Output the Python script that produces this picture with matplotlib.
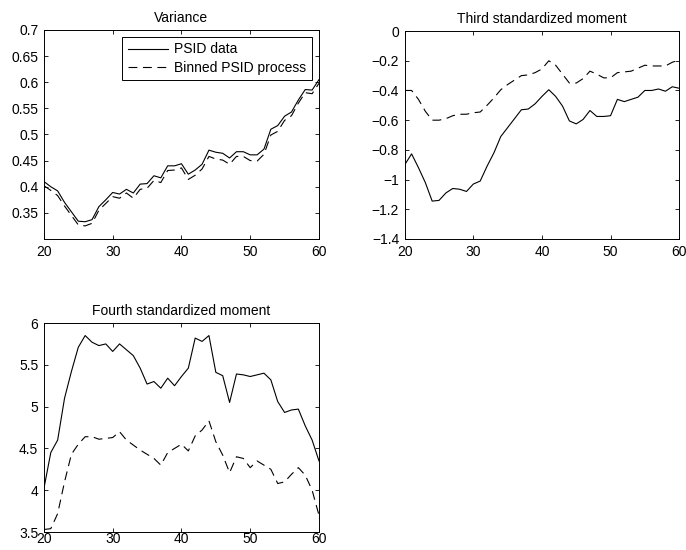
import matplotlib
matplotlib.use('Agg')
import matplotlib.pyplot as plt
import numpy as np

plt.rcParams['font.family'] = ['Liberation Sans', 'DejaVu Sans']
plt.rcParams['font.size'] = 10

ages = np.arange(20, 61)

var_psid = [0.410, 0.400, 0.392, 0.370, 0.352, 0.334, 0.333, 0.337, 0.362, 0.375,
            0.389, 0.386, 0.395, 0.388, 0.405, 0.406, 0.421, 0.417, 0.440, 0.440,
            0.444, 0.424, 0.432, 0.443, 0.470, 0.466, 0.464, 0.455, 0.467, 0.467,
            0.461, 0.461, 0.472, 0.510, 0.517, 0.535, 0.543, 0.566, 0.586, 0.585,
            0.605]
var_binned = [0.402, 0.393, 0.383, 0.363, 0.345, 0.327, 0.325, 0.330, 0.355, 0.368,
              0.381, 0.378, 0.388, 0.378, 0.395, 0.397, 0.412, 0.408, 0.431, 0.432,
              0.436, 0.414, 0.422, 0.434, 0.458, 0.453, 0.451, 0.443, 0.458, 0.458,
              0.450, 0.449, 0.462, 0.499, 0.506, 0.527, 0.536, 0.560, 0.580, 0.578,
              0.598]

skew_psid = [-0.90, -0.827, -0.92, -1.02, -1.145, -1.14, -1.09, -1.06, -1.065, -1.08,
             -1.03, -1.01, -0.91, -0.82, -0.71, -0.65, -0.59, -0.53, -0.525, -0.49,
             -0.44, -0.395, -0.44, -0.505, -0.605, -0.625, -0.595, -0.535, -0.575, -0.575,
             -0.57, -0.46, -0.475, -0.46, -0.445, -0.40, -0.40, -0.39, -0.405, -0.375,
             -0.385]
skew_binned = [-0.40, -0.40, -0.46, -0.54, -0.60, -0.60, -0.59, -0.57, -0.56, -0.56,
               -0.55, -0.545, -0.50, -0.45, -0.395, -0.36, -0.33, -0.30, -0.295, -0.28,
               -0.255, -0.20, -0.23, -0.29, -0.35, -0.35, -0.32, -0.27, -0.29, -0.315,
               -0.315, -0.28, -0.275, -0.27, -0.25, -0.23, -0.235, -0.235, -0.235, -0.21,
               -0.195]

kurt_psid = [4.02, 4.45, 4.60, 5.10, 5.42, 5.71, 5.85, 5.77, 5.73, 5.75,
             5.66, 5.75, 5.68, 5.61, 5.46, 5.27, 5.30, 5.22, 5.34, 5.25,
             5.36, 5.46, 5.82, 5.78, 5.85, 5.41, 5.37, 5.05, 5.39, 5.38,
             5.36, 5.38, 5.40, 5.32, 5.06, 4.93, 4.96, 4.97, 4.77, 4.60,
             4.35]
kurt_binned = [3.53, 3.54, 3.72, 4.10, 4.43, 4.55, 4.64, 4.64, 4.61, 4.62,
               4.63, 4.70, 4.60, 4.54, 4.48, 4.43, 4.38, 4.30, 4.45, 4.50,
               4.55, 4.47, 4.65, 4.72, 4.83, 4.58, 4.42, 4.21, 4.40, 4.38,
               4.27, 4.35, 4.30, 4.25, 4.08, 4.10, 4.19, 4.27, 4.18, 4.00,
               3.70]

x_ticks = [20, 30, 40, 50, 60]
dash = (0, (8, 5))

fig = plt.figure(figsize=(6.86, 5.5), dpi=100)
ax1 = fig.add_axes([0.064, 0.5655, 0.401, 0.380])
ax2 = fig.add_axes([0.590, 0.5655, 0.400, 0.378])
ax3 = fig.add_axes([0.064, 0.0327, 0.401, 0.380])


def style(ax, title, ylim, yticks, ylabels, xpad=4):
    ax.set_xlim(20, 60)
    ax.set_ylim(*ylim)
    ax.set_xticks(x_ticks)
    ax.set_yticks(yticks)
    ax.set_yticklabels(ylabels)
    ax.tick_params(direction='in', top=True, right=True, length=3, width=0.6,
                   labelsize=10, pad=4)
    ax.tick_params(axis='x', pad=xpad)
    for s in ax.spines.values():
        s.set_linewidth(0.7)
    ax.set_title(title, fontsize=10, pad=6)


ax1.plot(ages, var_psid, color='black', lw=0.8, label='PSID data')
ax1.plot(ages, var_binned, color='black', lw=0.8, linestyle=dash,
         label='Binned PSID process')
style(ax1, 'Variance', (0.3, 0.7), [0.35, 0.4, 0.45, 0.5, 0.55, 0.6, 0.65, 0.7],
      ['0.35', '0.4', '0.45', '0.5', '0.55', '0.6', '0.65', '0.7'])
leg = ax1.legend(loc='upper right', fancybox=False, edgecolor='black', framealpha=1,
                 handlelength=2.9, handletextpad=0.45, borderpad=0.4,
                 labelspacing=0.3, borderaxespad=0.5, fontsize=10)
leg.get_frame().set_linewidth(0.7)

ax2.plot(ages, skew_psid, color='black', lw=0.8)
ax2.plot(ages, skew_binned, color='black', lw=0.8, linestyle=dash)
style(ax2, 'Third standardized moment', (-1.4, 0),
      [-1.4, -1.2, -1, -0.8, -0.6, -0.4, -0.2, 0],
      ['\u22121.4', '\u22121.2', '\u22121', '\u22120.8', '\u22120.6', '\u22120.4',
       '\u22120.2', '0'])

ax3.plot(ages, kurt_psid, color='black', lw=0.8)
ax3.plot(ages, kurt_binned, color='black', lw=0.8, linestyle=dash)
style(ax3, 'Fourth standardized moment', (3.5, 6), [3.5, 4, 4.5, 5, 5.5, 6],
      ['3.5', '4', '4.5', '5', '5.5', '6'], xpad=0)

fig.savefig('out.png', dpi=100)
